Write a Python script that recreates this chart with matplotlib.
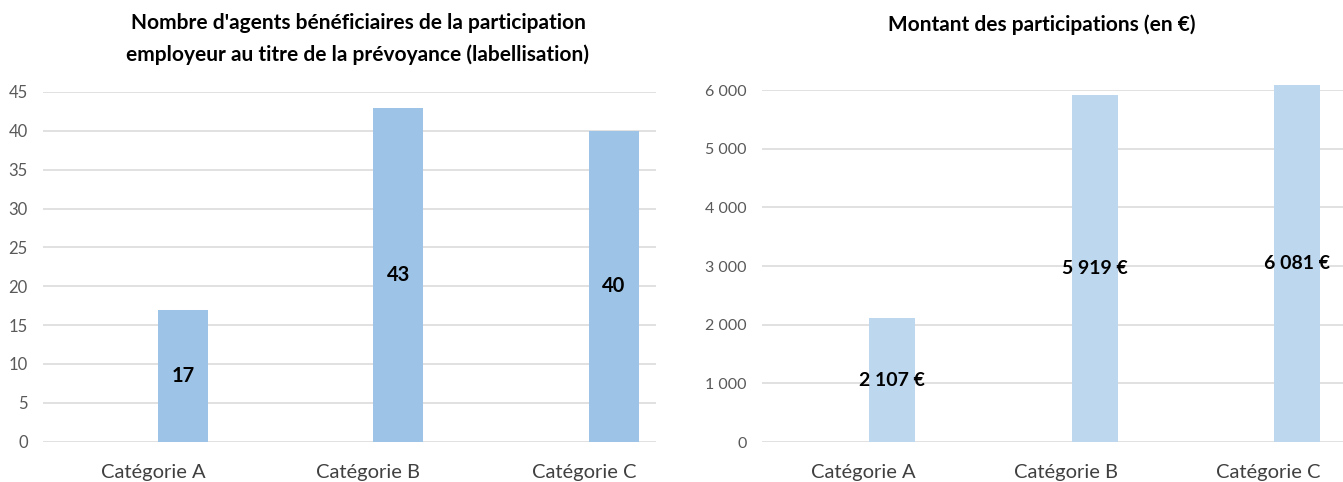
import matplotlib
matplotlib.use("Agg")
import matplotlib.pyplot as plt
import numpy as np

plt.rcParams['font.family'] = ['Lato', 'DejaVu Sans']

categories = ["Catégorie A", "Catégorie B", "Catégorie C"]
agents = [17, 43, 40]
montants = [2107, 5919, 6081]
left_ticks = [0, 5, 10, 15, 20, 25, 30, 35, 40, 45]
right_ticks = [0, 1000, 2000, 3000, 4000, 5000, 6000]

title_left = "Nombre d'agents bénéficiaires de la participation\nemployeur au titre de la prévoyance (labellisation)"
title_right = "Montant des participations (en €)"

W, H = 1343, 482
fig = plt.figure(figsize=(W / 100, H / 100), dpi=100)

def fmt_thousands(v):
    return f"{int(round(v)):,}".replace(",", " ")

grid_col = "#D9D9D9"
tick_col = "#595959"

def style(ax, ticks, labels, ysize):
    for s in ax.spines.values():
        s.set_visible(False)
    ax.set_yticks(ticks)
    ax.set_yticklabels(labels)
    ax.yaxis.grid(True, color=grid_col, linewidth=1.1)
    ax.set_axisbelow(True)
    ax.tick_params(axis='y', length=0, pad=11, labelsize=ysize, labelcolor=tick_col)
    ax.tick_params(axis='x', length=0, pad=16, labelsize=14.5, labelcolor="#404040")
    ax.set_xticks(np.arange(len(categories)))
    ax.set_xticklabels(categories)

# Left chart
axL = fig.add_axes([43 / W, 1 - 441.7 / H, (656 - 43) / W, (441.7 - 92) / H])
x = np.arange(len(categories))
axL.bar(x + 0.139, agents, width=0.232, color="#9DC3E6", clip_on=False)
axL.set_ylim(0, 45)
axL.set_xlim(-0.51, 2.334)
style(axL, left_ticks, [str(t) for t in left_ticks], 12)
for xi, v in zip(x, agents):
    axL.text(xi + 0.139, v / 2, str(v), ha='center', va='center',
             fontsize=14.5, fontweight='bold', color='black')
fig.text(358 / W, 1 - 39 / H, title_left, ha='center', va='center',
         fontsize=15, fontweight='bold', linespacing=1.65)

# Right chart
axR = fig.add_axes([762 / W, 1 - 442 / H, (W - 762) / W, (442 - 90) / H])
axR.bar(x + 0.143, montants, width=0.227, color="#BDD7EE", clip_on=False)
axR.set_ylim(0, 6000)
axR.set_xlim(-0.5, 2.37)
style(axR, right_ticks, [fmt_thousands(t) for t in right_ticks], 11.5)
for xi, v in zip(x, montants):
    axR.text(xi + 0.143, v / 2, fmt_thousands(v) + " €", ha='center', va='center',
             fontsize=14, fontweight='bold', color='black')
fig.text(1042 / W, 1 - 25 / H, title_right, ha='center', va='center',
         fontsize=15, fontweight='bold')

fig.savefig("out.png", dpi=100)
